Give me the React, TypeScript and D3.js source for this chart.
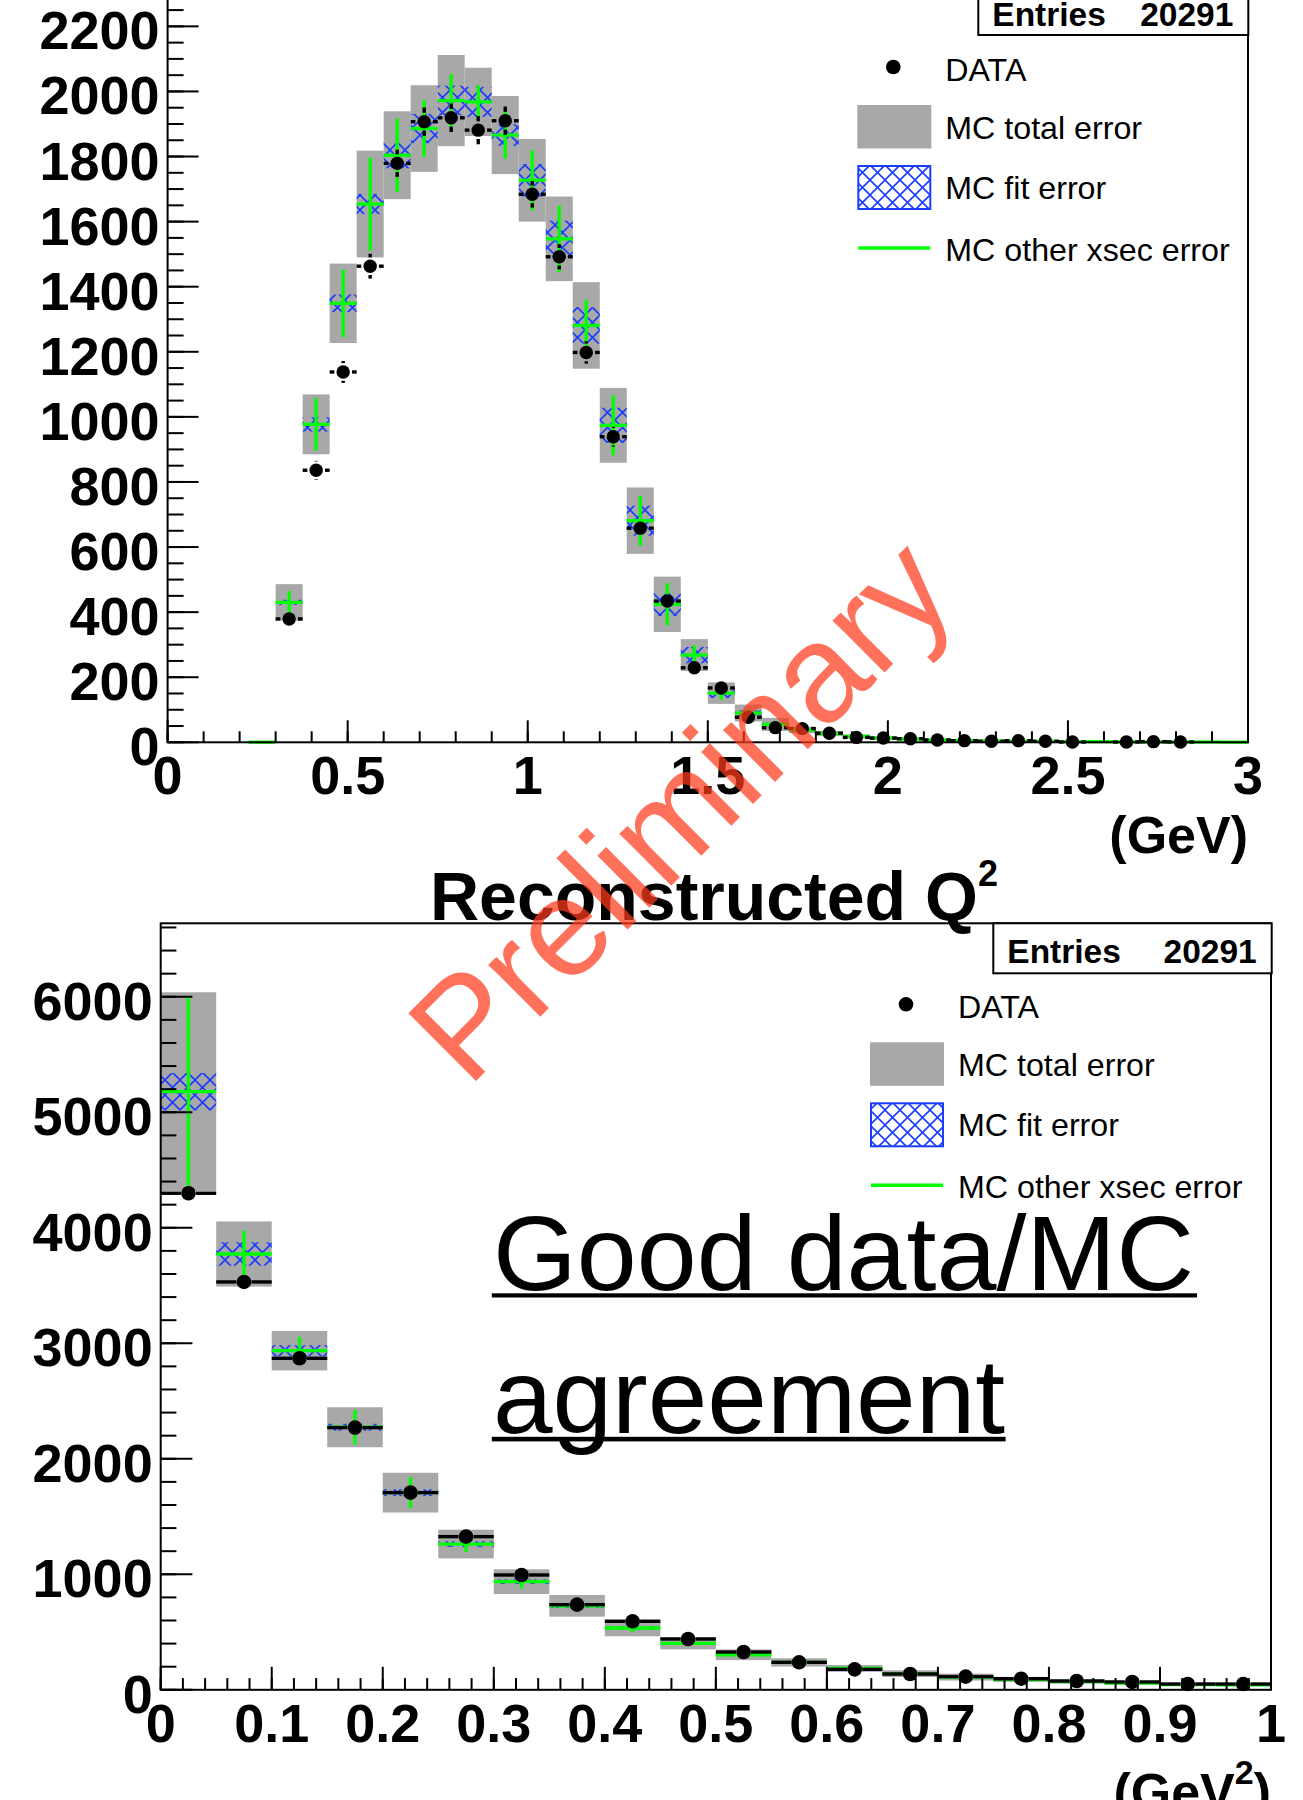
import React from 'react';
import * as d3 from 'd3';

// ---- top panel: reconstructed energy (GeV), 40 bins of 0.075 ----
const topBinWidth = 0.075;
const topData = [null, null, null, null, 379, 836, 1138, 1463, 1779, 1907,
  1919, 1881, 1910, 1684, 1492, 1198, 939, 658, 434, 229, 167, 77,
  45, 42, 28, 15, 13, 11, 7, 5, 3, 5, 3, 1, null, 1, 2, 1, null, null];
const topMC = [0, 0, 0, 0.5, 430, 977, 1349, 1654, 1804, 1886,
  1972, 1968, 1866, 1727, 1547, 1281, 974, 681, 424, 268, 151, 90,
  55, 38, 27, 18, 13, 10, 7, 5, 4, 3, 3, 2, 2, 1.5, 1, 1, 1, 0.5];
const topTotalErr = [0, 0, 0, 0.5, 56, 92, 122, 164, 135, 133,
  140, 105, 120, 127, 130, 133, 115, 102, 85, 49, 33, 26,
  20, 10, 8, 6, 5, 4, 3, 2, 2, 1.5, 1.5, 1, 1, 1, 0.5, 0.5, 0.5, 0.3];
const topFitErr = [0, 0, 0, 0, 8, 22, 27, 31, 40, 45,
  46, 46, 33, 50, 56, 56, 54, 46, 36, 25, 15, 8,
  5, 3, 2, 1.5, 1, 1, 0.5, 0.5, 0.5, 0.5, 0.5, 0.3, 0.3, 0.3, 0.2, 0.2, 0.2, 0.1];
const topXsecErr = [0, 0, 0, 0, 35, 80, 104, 143, 113, 87,
  81, 51, 72, 92, 102, 79, 92, 77, 65, 30, 20, 12,
  8, 5, 3, 2, 1.5, 1, 1, 0.5, 0.5, 0.5, 0.5, 0.3, 0.3, 0.3, 0.2, 0.2, 0.2, 0.1];
const topXLabels = ['0', '0.5', '1', '1.5', '2', '2.5', '3'];
const topYLabels = [0, 200, 400, 600, 800, 1000, 1200, 1400, 1600, 1800, 2000, 2200];

// ---- bottom panel: reconstructed Q2 (GeV^2), 20 bins of 0.05 ----
const botBinWidth = 0.05;
const botData = [4299, 3531, 2870, 2270, 1707, 1326, 994, 737, 593, 440,
  327, 238, 177, 137, 114, 96, 76, 68, 50, 50];
const botMC = [5178, 3773, 2936, 2273, 1707, 1262, 936, 727, 535, 402,
  303, 237, 186, 140, 110, 90, 72, 58, 45, 42];
const botTotalErr = [861, 282, 171, 173, 172, 124, 107, 94, 72, 52,
  46, 36, 29, 29, 30, 22, 18, 15, 12, 10];
const botFitErr = [162, 101, 48, 30, 30, 25, 20, 18, 14, 10,
  8, 6, 5, 4, 3, 3, 2, 2, 2, 1];
const botXsecErr = [818, 203, 120, 150, 133, 70, 60, 40, 35, 25,
  20, 15, 12, 10, 8, 6, 5, 4, 3, 3];
const botXLabels = ['0', '0.1', '0.2', '0.3', '0.4', '0.5', '0.6', '0.7', '0.8', '0.9', '1'];
const botYLabels = [0, 1000, 2000, 3000, 4000, 5000, 6000];

const legendLabels = ['DATA', 'MC total error', 'MC fit error', 'MC other xsec error'];
const entries = 20291;

const FONT = "'Liberation Sans', Arial, Helvetica, sans-serif";
const GRAY = '#a8a8a8';
const GREEN = '#00ff00';
const BLUE = '#1a3cff';

function Hist({ x, y, binWidth, data, mc, tot, fit, xsec, r, gap }) {
  return (
    <g>
      {mc.map((m, i) => m > 0 && (
        <rect key={'t' + i} x={x(i * binWidth)} width={x((i + 1) * binWidth) - x(i * binWidth)}
          y={y(m + tot[i])} height={Math.max(0.6, y(m - tot[i]) - y(m + tot[i]))} fill={GRAY} />
      ))}
      {mc.map((m, i) => fit[i] > 0 && (
        <rect key={'f' + i} x={x(i * binWidth)} width={x((i + 1) * binWidth) - x(i * binWidth)}
          y={y(m + fit[i])} height={y(m - fit[i]) - y(m + fit[i])} fill="url(#hatch)" />
      ))}
      {mc.map((m, i) => m > 0 && (
        <g key={'g' + i} stroke={GREEN} strokeWidth={3.3}>
          <line x1={x(i * binWidth)} x2={x((i + 1) * binWidth)} y1={y(m)} y2={y(m)} />
          {xsec[i] > 0 && <line x1={x((i + 0.5) * binWidth)} x2={x((i + 0.5) * binWidth)}
            y1={y(m + xsec[i])} y2={y(m - xsec[i])} />}
        </g>
      ))}
      {data.map((d, i) => {
        if (d == null) return null;
        const cx = x((i + 0.5) * binWidth);
        const cy = y(d);
        const hw = (x((i + 1) * binWidth) - x(i * binWidth)) / 2;
        const ey = y(d - Math.sqrt(d)) - cy;
        return (
          <g key={'d' + i} stroke="#000" strokeWidth={3.4}>
            <line x1={cx - hw} x2={cx - gap} y1={cy} y2={cy} />
            <line x1={cx + gap} x2={cx + hw} y1={cy} y2={cy} />
            {ey > gap && <line x1={cx} x2={cx} y1={cy - ey} y2={cy - gap} />}
            {ey > gap && <line x1={cx} x2={cx} y1={cy + gap} y2={cy + ey} />}
            <circle cx={cx} cy={cy} r={r} fill="#000" stroke="none" />
          </g>
        );
      })}
    </g>
  );
}

function Axes({ x, y, xMinor, xMajor, yMinor, yMajor, xLen, yLen, xLabels, yLabels }) {
  const [x0, x1] = x.range();
  const [y0, y1] = y.range();
  return (
    <g>
      <rect x={x0} y={y1} width={x1 - x0} height={y0 - y1} fill="none" stroke="#000" strokeWidth={2} />
      {xMinor.map((t, i) => (
        <line key={'xm' + i} x1={x(t)} x2={x(t)} y1={y0} y2={y0 - xLen[1]} stroke="#000" strokeWidth={2} />
      ))}
      {xMajor.map((t, i) => (
        <line key={'xM' + i} x1={x(t)} x2={x(t)} y1={y0} y2={y0 - xLen[0]} stroke="#000" strokeWidth={2} />
      ))}
      {yMinor.map((t, i) => (
        <line key={'ym' + i} x1={x0} x2={x0 + yLen[1]} y1={y(t)} y2={y(t)} stroke="#000" strokeWidth={2} />
      ))}
      {yMajor.map((t, i) => (
        <line key={'yM' + i} x1={x0} x2={x0 + yLen[0]} y1={y(t)} y2={y(t)} stroke="#000" strokeWidth={2} />
      ))}
      <g fontFamily={FONT} fontWeight="bold" fontSize={54}>
        {xLabels.map((l) => (
          <text key={'xl' + l} x={x(+l)} y={y0 + 52} textAnchor="middle">{l}</text>
        ))}
        {yLabels.map((l) => (
          <text key={'yl' + l} x={x0 - 8} y={y(l) + 23} textAnchor="end">{l}</text>
        ))}
      </g>
    </g>
  );
}

function Legend({ x, y }) {
  // x: left of legend symbols, y: baseline of first entry
  return (
    <g fontFamily={FONT} fontSize={32.2}>
      <circle cx={x + 36} cy={y - 14} r={7.3} fill="#000" />
      <rect x={x} y={y + 24} width={74} height={43.5} fill={GRAY} />
      <rect x={x + 1} y={y + 85} width={72} height={43} fill="url(#hatch)" stroke={BLUE} strokeWidth={2} />
      <line x1={x + 1} x2={x + 73} y1={y + 167} y2={y + 167} stroke={GREEN} strokeWidth={3.5} />
      {legendLabels.map((l, i) => (
        <text key={l} x={x + 88} y={y + [0, 57.5, 118, 180][i]}>{l}</text>
      ))}
    </g>
  );
}

function StatBox({ x0, x1, y0, y1, base }) {
  return (
    <g>
      <rect x={x0} y={y0} width={x1 - x0} height={y1 - y0} fill="#fff" stroke="#000" strokeWidth={2} />
      <g fontFamily={FONT} fontWeight="bold" fontSize={33.5}>
        <text x={x0 + 14} y={base}>Entries</text>
        <text x={x1 - 15} y={base} textAnchor="end">{entries}</text>
      </g>
    </g>
  );
}

export default function App() {
  const xTop = d3.scaleLinear().domain([0, 3]).range([167.6, 1248]);
  const yTop = d3.scaleLinear().domain([0, 2324]).range([742.3, -14]);
  const xBot = d3.scaleLinear().domain([0, 1]).range([160.7, 1271]);
  const yBot = d3.scaleLinear().domain([0, 6636]).range([1689.8, 923.3]);

  return (
    <svg width={1303} height={1800} style={{ position: 'absolute', left: 0, top: 0, background: '#fff' }}>
      <defs>
        <pattern id="hatch" patternUnits="userSpaceOnUse" width={15} height={15}>
          <path d="M0,0 L15,15 M15,0 L0,15" stroke={BLUE} strokeWidth={1.6} fill="none" />
        </pattern>
      </defs>
      <rect width={1303} height={1800} fill="#fff" />

      {/* top panel */}
      <Hist x={xTop} y={yTop} binWidth={topBinWidth} data={topData} mc={topMC} tot={topTotalErr}
        fit={topFitErr} xsec={topXsecErr} r={6.7} gap={8.8} />
      <Axes x={xTop} y={yTop}
        xMinor={d3.range(0, 3.001, 0.1)} xMajor={d3.range(0, 3.001, 0.5)}
        yMinor={d3.range(0, 2301, 50)} yMajor={topYLabels}
        xLen={[22, 11]} yLen={[31, 16]} xLabels={topXLabels} yLabels={topYLabels} />
      <StatBox x0={978.3} x1={1248.3} y0={-20} y1={35} base={26} />
      <Legend x={857.3} y={81} />
      <text x={1248} y={853} textAnchor="end" fontFamily={FONT} fontWeight="bold" fontSize={52}>(GeV)</text>

      {/* bottom panel */}
      <text x={430} y={920} fontFamily={FONT} fontWeight="bold" fontSize={68}>
        Reconstructed Q<tspan dy={-34} fontSize={36}>2</tspan>
      </text>
      <Hist x={xBot} y={yBot} binWidth={botBinWidth} data={botData} mc={botMC} tot={botTotalErr}
        fit={botFitErr} xsec={botXsecErr} r={7.3} gap={7.5} />
      <Axes x={xBot} y={yBot}
        xMinor={d3.range(0, 1.0001, 0.02)} xMajor={d3.range(0, 1.0001, 0.1)}
        yMinor={d3.range(0, 6601, 200)} yMajor={botYLabels}
        xLen={[23, 11.7]} yLen={[31.7, 15.7]} xLabels={botXLabels} yLabels={botYLabels} />
      <StatBox x0={993.3} x1={1271.7} y0={923.3} y1={973.3} base={962.7} />
      <Legend x={870} y={1018.3} />
      <text x={1271} y={1810} textAnchor="end" fontFamily={FONT} fontWeight="bold" fontSize={52}>
        (GeV<tspan dy={-26} fontSize={34}>2</tspan><tspan dy={26}>)</tspan>
      </text>

      {/* annotation */}
      <g fontFamily={FONT} fill="#000">
        <text x={493} y={1290} fontSize={106} textLength={701} lengthAdjust="spacingAndGlyphs">Good data/MC</text>
        <rect x={491.8} y={1293.3} width={705.2} height={4.2} />
        <text x={493} y={1433} fontSize={106} textLength={512} lengthAdjust="spacingAndGlyphs">agreement</text>
        <rect x={491.8} y={1436.8} width={513.8} height={4.6} />
      </g>

      {/* watermark */}
      <text transform="translate(468,1089) rotate(-45)" fontFamily={FONT} fontSize={139}
        fill="#ff3a1a" fillOpacity={0.72}>Preliminary</text>
    </svg>
  );
}
